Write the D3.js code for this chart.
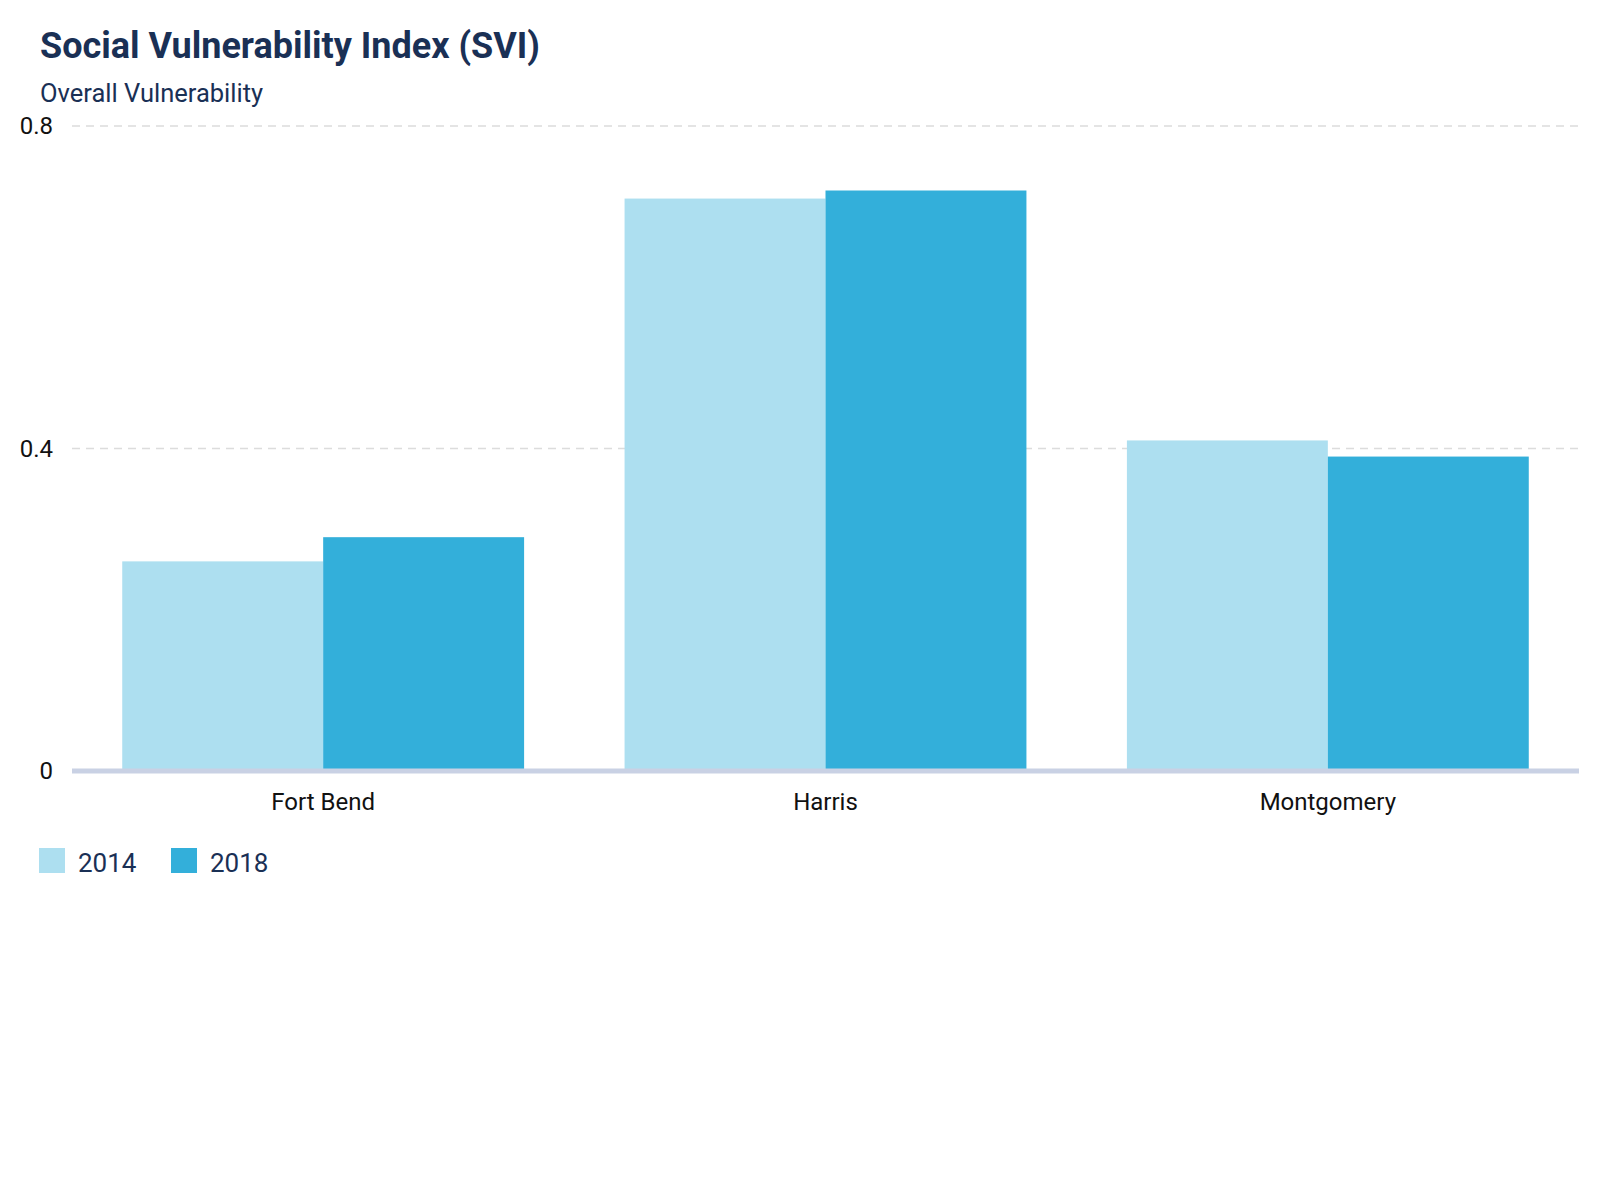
<!DOCTYPE html>
<html>
<head>
<meta charset="utf-8">
<script src="https://cdn.jsdelivr.net/npm/d3@7"></script>
<style>
  html, body { margin: 0; padding: 0; background: #fff; }
  svg { display: block; font-family: Roboto, "Noto Sans", sans-serif; }
</style>
</head>
<body>
<svg id="chart" width="1600" height="1200"></svg>
<script>
const categories = ["Fort Bend", "Harris", "Montgomery"];
const seriesNames = ["2014", "2018"];
const values2014 = [0.26, 0.71, 0.41];
const values2018 = [0.29, 0.72, 0.39];
const yTicks = [0, 0.4, 0.8];
const yTickLabels = ["0", "0.4", "0.8"];
const colors = ["#addff0", "#33afda"];

(function () {
const svg = d3.select("#chart");
const mLeft = 72, mRight = 1579, mTop = 126, mBottom = 771;

const x0 = d3.scaleBand().domain(categories).range([mLeft, mRight]).paddingInner(0.2).paddingOuter(0.1);
const x1 = d3.scaleBand().domain(seriesNames).range([0, x0.bandwidth()]).padding(0);
const y = d3.scaleLinear().domain([0, 0.8]).range([mBottom, mTop]);

// Title
svg.append("text").attr("x", 40).attr("y", 58)
  .attr("font-size", 36).attr("font-weight", 700).attr("fill", "#1a3055")
  .text("Social Vulnerability Index (SVI)");
svg.append("text").attr("x", 40).attr("y", 102)
  .attr("font-size", 25.5).attr("fill", "#1a3055")
  .text("Overall Vulnerability");

// Gridlines
svg.append("g").selectAll("line").data(yTicks.filter(d => d > 0)).join("line")
  .attr("x1", mLeft).attr("x2", mRight)
  .attr("y1", d => y(d)).attr("y2", d => y(d))
  .attr("stroke", "#dcdcdc").attr("stroke-width", 1.5).attr("stroke-dasharray", "8,6");

// Y tick labels
svg.append("g").selectAll("text").data(yTicks).join("text")
  .attr("x", 53).attr("y", d => y(d)).attr("dy", "0.35em")
  .attr("text-anchor", "end").attr("font-size", 24).attr("fill", "#111")
  .text((d, i) => yTickLabels[i]);

// Bars
const data = categories.map((c, i) => ({ cat: c, vals: [values2014[i], values2018[i]] }));
const groups = svg.append("g").selectAll("g").data(data).join("g")
  .attr("transform", d => `translate(${x0(d.cat)},0)`);
groups.selectAll("rect").data(d => d.vals.map((v, j) => ({ key: seriesNames[j], v, j }))).join("rect")
  .attr("x", d => x1(d.key)).attr("width", x1.bandwidth())
  .attr("y", d => y(d.v)).attr("height", d => y(0) - y(d.v))
  .attr("fill", d => colors[d.j]);

// Axis baseline
svg.append("line").attr("x1", mLeft).attr("x2", mRight)
  .attr("y1", y(0)).attr("y2", y(0))
  .attr("stroke", "#c9d1e4").attr("stroke-width", 5);

// Category labels
svg.append("g").selectAll("text").data(categories).join("text")
  .attr("x", d => x0(d) + x0.bandwidth() / 2).attr("y", 810)
  .attr("text-anchor", "middle").attr("font-size", 24).attr("fill", "#111")
  .text(d => d);

// Legend
const legendX = [39, 171];
const lg = svg.append("g").selectAll("g").data(seriesNames).join("g")
  .attr("transform", (d, i) => `translate(${legendX[i]},848)`);
lg.append("rect").attr("width", 26).attr("height", 25).attr("fill", (d, i) => colors[i]);
lg.append("text").attr("x", 39).attr("y", 24).attr("font-size", 26).attr("fill", "#1a3055").text(d => d);
})();
</script>
</body>
</html>
